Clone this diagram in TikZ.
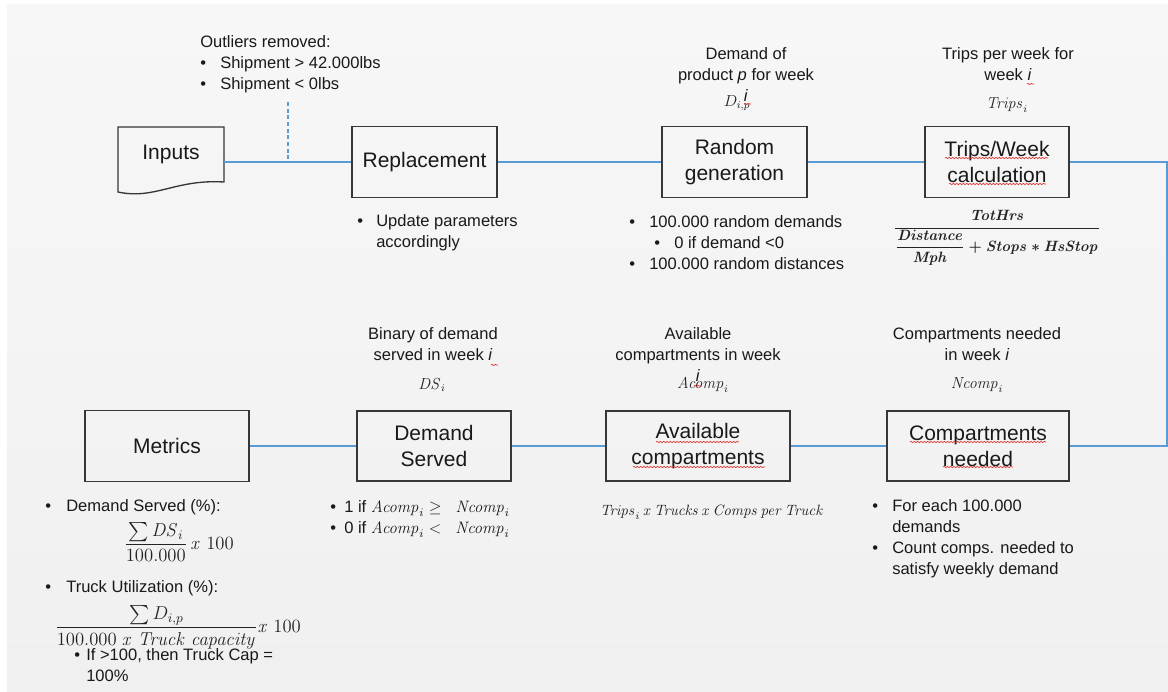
\documentclass[tikz,border=0pt]{standalone}
\usepackage{fix-cm}
\usepackage{amsmath}
\usepackage[no-math]{fontspec}
\setmainfont{Liberation Sans}
\usetikzlibrary{decorations.pathmorphing}
\definecolor{connblue}{RGB}{91,155,213}
\definecolor{boxline}{RGB}{55,55,55}
\definecolor{txt}{RGB}{25,25,25}
\definecolor{mtxt}{RGB}{35,35,35}
\definecolor{squigred}{RGB}{225,50,50}
\definecolor{bgtop}{RGB}{247,247,247}
\definecolor{bgbot}{RGB}{240,240,240}
\newcommand{\bigfont}{\fontsize{15.75}{19.5}\selectfont}
\newcommand{\smallfont}{\fontsize{12.4}{15.75}\selectfont}
\newcommand{\mathfont}{\fontsize{12}{14.5}\selectfont}
\newcommand{\bigmathfont}{\fontsize{14}{17}\selectfont}
\newcommand{\boldmathfont}{\fontsize{11.2}{14}\selectfont\mathversion{bold}}
\newcommand{\bul}[1]{\makebox[#1][l]{\textbullet}}
\newcommand{\mw}[1]{\mathit{#1}}
\tikzset{
  procbox/.style={draw=boxline, line width=1pt, minimum width=108.75pt, minimum height=53.25pt, align=center, font=\bigfont, text=txt, inner sep=0pt},
  lbl/.style={align=center, font=\smallfont, text=txt, inner sep=0pt},
  blist/.style={align=left, font=\smallfont, text=txt, inner sep=0pt, anchor=west},
  mth/.style={font=\mathfont, text=mtxt, inner sep=0pt},
  link/.style={draw=connblue, line width=0.8pt},
  squig/.style={draw=squigred, line width=0.5pt, decorate, decoration={snake, amplitude=0.5pt, segment length=2.5pt}}
}
\begin{document}
\begin{tikzpicture}[x=0.75pt,y=-0.75pt]
\useasboundingbox (0,0) rectangle (1168,692);
\fill[white] (0,0) rectangle (1168,692);
\shade[top color=bgtop, bottom color=bgbot] (7,5) rectangle (1168,692);

% Inputs document shape
\draw[draw=boxline, line width=1pt] (118,127) -- (224,127) -- (224,182) .. controls (175,179) and (155,200) .. (118,192) -- cycle;
\node[font=\bigfont, text=txt, inner sep=0pt] (inputs) at (171,154) {Inputs};
\coordinate (inE) at (224,162);
\coordinate (dashTop) at (288,102);
\coordinate (dashFoot) at (288,162);
\coordinate (rt) at (1167,446);

% process boxes
\node[procbox] (rep) at (424.5,162) {Replacement};
\node[procbox] (rand) at (734.5,162) {Random\\generation};
\node[procbox, minimum width=108pt] (trips) at (997,162) {Trips/Week\\calculation};
\node[procbox, minimum width=136.5pt, minimum height=52.5pt] (comp) at (978,446) {Compartments\\needed};
\node[procbox, minimum width=138pt, minimum height=52.5pt] (avail) at (698,446) {Available\\compartments};
\node[procbox, minimum width=115.5pt, minimum height=52.5pt] (ds) at (434,446) {Demand\\Served};
\node[procbox, minimum width=123pt] (met) at (167,446) {Metrics};

% connectors
\draw[link] (inE) -- (rep.west);
\draw[link, dash pattern=on 3pt off 2pt] (dashTop) -- (dashFoot);
\draw[link] (rep.east) -- (rand.west);
\draw[link] (rand.east) -- (trips.west);
\draw[link] (trips.east) -| (rt) -- (comp.east);
\draw[link] (comp.west) -- (avail.east);
\draw[link] (avail.west) -- (ds.east);
\draw[link] (ds.west) -- (met.east);

% upper labels
\node[blist] (outl) at (200,64.5) {Outliers removed:\\\bul{15pt}Shipment > 42.000lbs\\\bul{15pt}Shipment < 0lbs};
\node[lbl] (dlbl) at (746,75) {Demand of\\product \textit{p} for week\\\textit{i}};
\node[mth] (dip) at (737,103) {$D_{i,p}$};
\node[lbl] (tlbl) at (1008,64) {Trips per week for\\week \textit{i}};
\node[mth] (tri) at (1007,105) {$\mw{Trips}_i$};
\node[lbl] (dslbl) at (433,344) {Binary of demand\\served in week \textit{i}};
\node[mth] (dsi) at (432,385) {$\mw{DS}_i$};
\node[lbl] (alb) at (698,355) {Available\\compartments in week\\\textit{i}};
\node[mth] (aci) at (703,385) {$\mw{Acomp}_i$};
\node[lbl] (clb) at (977,344) {Compartments needed\\in week \textit{i}};
\node[mth] (nci) at (977,385) {$\mw{Ncomp}_i$};

% lower descriptions
\node[blist] (repb) at (357,232.5) {\bul{14.25pt}Update parameters\\\hspace*{14.25pt}accordingly};
\node[blist] (randb) at (629,242.5) {\bul{15pt}100.000 random demands\\\hspace*{18.75pt}\bul{15pt}0 if demand <0\\\bul{15pt}100.000 random distances};
\node[mth, font=\boldmathfont] (tf) at (997,238) {$\dfrac{\mw{TotHrs}}{\dfrac{\mw{Distance}}{\mw{Mph}}+\mw{Stops}\ast\mw{HsStop}}$};
\node[blist] (dsb) at (330,519) {\bul{10.5pt}1 if $\mw{Acomp}_i \geq\ \ \mw{Ncomp}_i$\\\bul{10.5pt}0 if $\mw{Acomp}_i <\ \ \mw{Ncomp}_i$};
\node[mth, font=\fontsize{11.2}{14}\selectfont] (af) at (712,512) {$\mw{Trips}_i\,\mw{x}\,\mw{Trucks}\,\mw{x}\,\mw{Comps}\,\mw{per}\,\mw{Truck}$};
\node[blist] (cb) at (872,538.5) {\bul{15pt}For each 100.000\\\hspace*{15pt}demands\\\bul{15pt}Count comps. needed to\\\hspace*{15pt}satisfy weekly demand};
\node[blist] (mb1) at (45,507) {\bul{15.75pt}Demand Served (\%):};
\node[mth, font=\bigmathfont] (mf1) at (179,542) {$\dfrac{\sum \mw{DS}_i}{100.000}\,\mw{x}\ 100$};
\node[blist] (mb2) at (45,588) {\bul{15.75pt}Truck Utilization (\%):};
\node[mth, font=\bigmathfont] (mf2) at (178,627) {$\dfrac{\sum D_{i,p}}{100.000\;\mw{x}\;\mw{Truck}\;\mw{capacity}}\mw{x}\ 100$};
\node[blist] (mb3) at (74,665) {\bul{9pt}If >100, then Truck Cap =\\\hspace*{9pt}100\%};

% spell-check squiggles
\draw[squig] (945,158) -- (1048,158);
\draw[squig] (949,184) -- (1046,184);
\draw[squig] (656,442) -- (739,442);
\draw[squig] (633,467) -- (765,467);
\draw[squig] (910,442) -- (1046,442);
\draw[squig] (943,467) -- (1013,467);
\draw[squig] (744,104) -- (751,104);
\draw[squig] (1027,84) -- (1034,84);
\draw[squig] (491,365) -- (498,365);
\draw[squig] (694,386) -- (701,386);
\end{tikzpicture}
\end{document}
